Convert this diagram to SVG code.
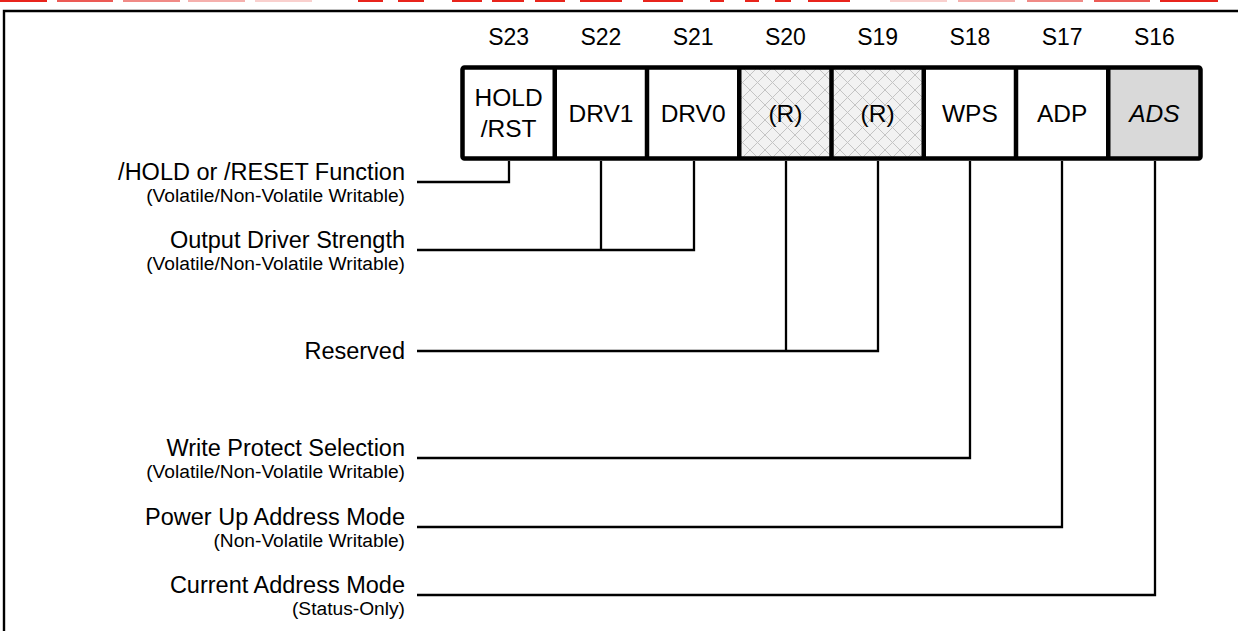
<svg xmlns="http://www.w3.org/2000/svg" width="1239" height="631" viewBox="0 0 1239 631">
<style>
.t{font-family:"Liberation Sans",Arial,sans-serif;fill:#000}
.bit{font-size:23px;text-anchor:middle}
.cell{font-size:24.5px;text-anchor:middle}
.main{font-size:23.5px;text-anchor:end}
.sub{font-size:19.2px;text-anchor:end}
.conn{stroke:#000;stroke-width:2.3;fill:none}
.div{stroke:#000;stroke-width:4.5}
</style>
<defs>
<pattern id="hatch" width="15" height="15" patternUnits="userSpaceOnUse">
<rect width="15" height="15" fill="#f2f2f2"/>
<path d="M0 0L15 15M15 0L0 15" stroke="#c4c4c4" stroke-width="1"/>
</pattern>
</defs>
<rect width="1239" height="631" fill="#fff"/>
<g id="watermark">
<rect x="0" y="0" width="47" height="2" fill="#e8241c"/>
<rect x="57" y="0" width="56" height="2" fill="#ec5a55"/>
<rect x="123" y="0" width="57" height="2" fill="#f08a86"/>
<rect x="188" y="0" width="57" height="2" fill="#f5b0ad"/>
<rect x="255" y="0" width="57" height="2" fill="#f9d0ce"/>
<rect x="358" y="0" width="25" height="2" fill="#e8241c"/>
<rect x="398" y="0" width="26" height="2" fill="#e8241c"/>
<rect x="452" y="0" width="30" height="2" fill="#e8241c"/>
<rect x="492" y="0" width="32" height="2" fill="#e8241c"/>
<rect x="535" y="0" width="30" height="2" fill="#e8241c"/>
<rect x="580" y="0" width="42" height="2" fill="#e8241c"/>
<rect x="643" y="0" width="40" height="2" fill="#e8241c"/>
<rect x="710" y="0" width="14" height="2" fill="#e8241c"/>
<rect x="745" y="0" width="14" height="2" fill="#e8241c"/>
<rect x="775" y="0" width="16" height="2" fill="#e8241c"/>
<rect x="808" y="0" width="42" height="2" fill="#e8241c"/>
<rect x="890" y="0" width="57" height="2" fill="#f9d0ce"/>
<rect x="958" y="0" width="57" height="2" fill="#f5b0ad"/>
<rect x="1027" y="0" width="56" height="2" fill="#f08a86"/>
<rect x="1094" y="0" width="56" height="2" fill="#ec5a55"/>
<rect x="1160" y="0" width="58" height="2" fill="#e8241c"/>
</g>
<g id="frame">
<path d="M4 631V11H1238" stroke="#000" stroke-width="2.4" fill="none"/>
</g>
<g id="bit-labels" class="t bit">
<text x="508.6" y="45">S23</text>
<text x="600.9" y="45">S22</text>
<text x="693.1" y="45">S21</text>
<text x="785.4" y="45">S20</text>
<text x="877.6" y="45">S19</text>
<text x="969.9" y="45">S18</text>
<text x="1062.1" y="45">S17</text>
<text x="1154.4" y="45">S16</text>
</g>
<g id="register">
<rect x="462.5" y="67.5" width="92.25" height="91" fill="#fff"/>
<rect x="554.75" y="67.5" width="92.25" height="91" fill="#fff"/>
<rect x="647" y="67.5" width="92.25" height="91" fill="#fff"/>
<rect x="739.25" y="67.5" width="92.25" height="91" fill="url(#hatch)"/>
<rect x="831.5" y="67.5" width="92.25" height="91" fill="url(#hatch)"/>
<rect x="923.75" y="67.5" width="92.25" height="91" fill="#fff"/>
<rect x="1016" y="67.5" width="92.25" height="91" fill="#fff"/>
<rect x="1108.25" y="67.5" width="92.25" height="91" fill="#d9d9d9"/>
<g class="div">
<line x1="554.75" y1="67.5" x2="554.75" y2="158.5"/>
<line x1="647" y1="67.5" x2="647" y2="158.5"/>
<line x1="739.25" y1="67.5" x2="739.25" y2="158.5"/>
<line x1="831.5" y1="67.5" x2="831.5" y2="158.5"/>
<line x1="923.75" y1="67.5" x2="923.75" y2="158.5"/>
<line x1="1016" y1="67.5" x2="1016" y2="158.5"/>
<line x1="1108.25" y1="67.5" x2="1108.25" y2="158.5"/>
</g>
<rect x="462.5" y="67.5" width="738" height="91" rx="2" fill="none" stroke="#000" stroke-width="4.5"/>
</g>
<g id="node-S23" class="t cell"><text x="508.6" y="106">HOLD</text><text x="508.6" y="137">/RST</text></g>
<g id="node-S22" class="t cell"><text x="600.9" y="122">DRV1</text></g>
<g id="node-S21" class="t cell"><text x="693.1" y="122">DRV0</text></g>
<g id="node-S20" class="t cell"><text x="785.4" y="122">(R)</text></g>
<g id="node-S19" class="t cell"><text x="877.6" y="122">(R)</text></g>
<g id="node-S18" class="t cell"><text x="969.9" y="122">WPS</text></g>
<g id="node-S17" class="t cell"><text x="1062.1" y="122">ADP</text></g>
<g id="node-S16" class="t cell"><text x="1154.4" y="122" font-style="italic">ADS</text></g>
<g id="label-hold" class="t"><text class="main" x="405" y="180">/HOLD or /RESET Function</text><text class="sub" x="405" y="202">(Volatile/Non-Volatile Writable)</text></g>
<g id="label-drv" class="t"><text class="main" x="405" y="248">Output Driver Strength</text><text class="sub" x="405" y="270">(Volatile/Non-Volatile Writable)</text></g>
<g id="label-res" class="t"><text class="main" x="405" y="359">Reserved</text></g>
<g id="label-wps" class="t"><text class="main" x="405" y="456">Write Protect Selection</text><text class="sub" x="405" y="478">(Volatile/Non-Volatile Writable)</text></g>
<g id="label-adp" class="t"><text class="main" x="405" y="525">Power Up Address Mode</text><text class="sub" x="405" y="547">(Non-Volatile Writable)</text></g>
<g id="label-ads" class="t"><text class="main" x="405" y="593">Current Address Mode</text><text class="sub" x="405" y="615">(Status-Only)</text></g>
<g id="connectors" class="conn">
<path d="M417 182H509V161"/>
<path d="M417 250H694V161"/>
<path d="M601 161V250"/>
<path d="M417 351H878V161"/>
<path d="M786 161V351"/>
<path d="M417 458H970V161"/>
<path d="M417 527H1062V161"/>
<path d="M417 595H1155V161"/>
</g>
</svg>
